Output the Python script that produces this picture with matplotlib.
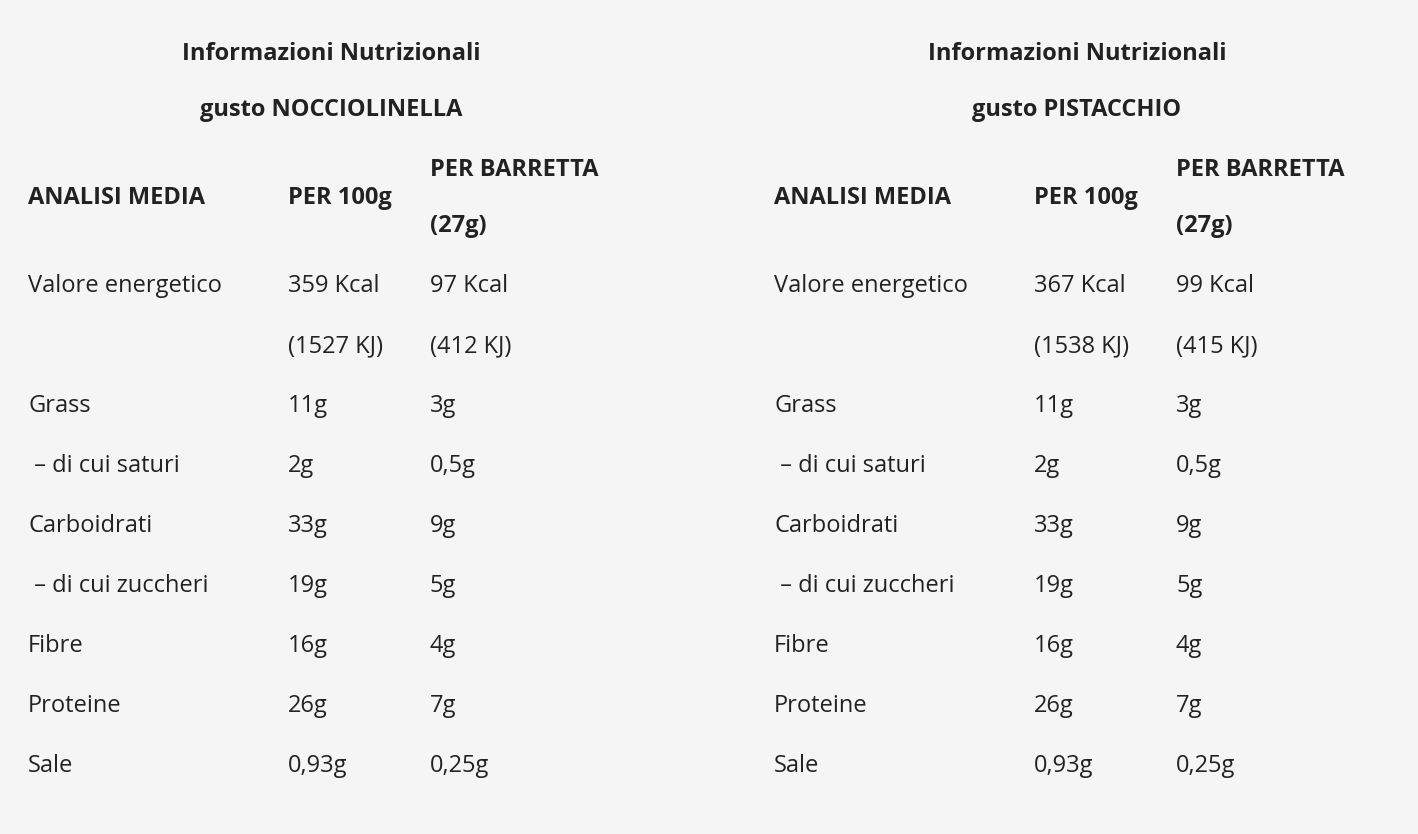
import matplotlib
matplotlib.use("Agg")
import matplotlib.pyplot as plt

W, H = 1418, 834
titles = ["Informazioni Nutrizionali\ngusto NOCCIOLINELLA", "Informazioni Nutrizionali\ngusto PISTACCHIO"]
headers = ["ANALISI MEDIA", "PER 100g", "PER BARRETTA\n(27g)"]
labels = ["Valore energetico", "", "Grass", " – di cui saturi", "Carboidrati", " – di cui zuccheri", "Fibre", "Proteine", "Sale"]
noc_100 = ["359 Kcal", "(1527 KJ)", "11g", "2g", "33g", "19g", "16g", "26g", "0,93g"]
noc_bar = ["97 Kcal", "(412 KJ)", "3g", "0,5g", "9g", "5g", "4g", "7g", "0,25g"]
pis_100 = ["367 Kcal", "(1538 KJ)", "11g", "2g", "33g", "19g", "16g", "26g", "0,93g"]
pis_bar = ["99 Kcal", "(415 KJ)", "3g", "0,5g", "9g", "5g", "4g", "7g", "0,25g"]

bg = "#f5f5f5"; fg = "#222222"
fig = plt.figure(figsize=(W/100, H/100), dpi=100, facecolor=bg)
fam = "Open Sans"; fs = 17

def T(x, y, s, **kw):
    fig.text(x/W, 1-y/H, s, family=fam, fontsize=fs, color=fg, va="center", **kw)

tables = [(0, noc_100, noc_bar), (746, pis_100, pis_bar)]
for (dx, c1, c2), title in zip(tables, titles):
    t1, t2 = title.split("\n")
    T(331+dx, 54, t1, ha="center", weight="bold")
    T(331+dx, 110, t2, ha="center", weight="bold")
    T(28+dx, 198, headers[0], weight="bold")
    T(288+dx, 198, headers[1], weight="bold")
    h1, h2 = headers[2].split("\n")
    T(430+dx, 170, h1, weight="bold")
    T(430+dx, 226, h2, weight="bold")
    for i, (a, b, c) in enumerate(zip(labels, c1, c2)):
        y = 286 + 60*i
        T(28+dx, y, a); T(288+dx, y, b); T(430+dx, y, c)

fig.savefig("out.png", dpi=100, facecolor=bg)
